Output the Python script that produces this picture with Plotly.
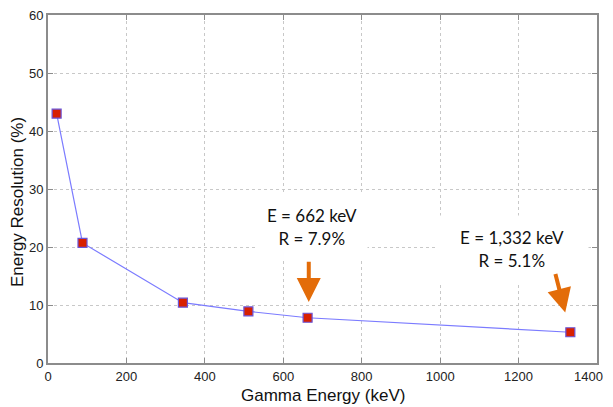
import plotly.graph_objects as go

energy_kev = [22, 88, 344, 511, 662, 1332]
resolution_pct = [43.0, 20.7, 10.4, 8.9, 7.8, 5.3]
x_ticks = [0, 200, 400, 600, 800, 1000, 1200, 1400]
x_tick_text = ["0", "200", "400", "600", "800", "1000", "1200", ""]
last_x_tick = "1400"
y_ticks = [0, 10, 20, 30, 40, 50, 60]
notes = ["E = 662 keV<br>R = 7.9%", "E = 1,332 keV<br>R = 5.1%"]
x_title = "Gamma Energy (keV)"
y_title = "Energy Resolution (%)"

orange = "#E36C09"
axis_col = "#8c8c8c"
note_font = dict(family="Lato, Open Sans", size=17, color="#111")
label_font = dict(family="Liberation Sans, Arial", size=17, color="#111")
tick_font = dict(family="Liberation Sans, Arial", size=13, color="#222")

fig = go.Figure()
fig.add_trace(go.Scatter(
    x=energy_kev, y=resolution_pct, mode="lines+markers",
    line=dict(color="#7b7bff", width=1.2),
    marker=dict(symbol="square", size=9, color="#d82000",
                line=dict(color="#6a55d8", width=1.2)),
    showlegend=False, hoverinfo="x+y",
))

ann = []
ann.append(dict(x=673, y=23.4, xref="x", yref="y", text=notes[0],
                showarrow=False, bgcolor="white", align="center", font=note_font,
                width=108, height=62))
ann.append(dict(x=1182, y=19.6, xref="x", yref="y", text=notes[1],
                showarrow=False, bgcolor="white", align="center", font=note_font,
                width=150, height=64))
ann.append(dict(x=energy_kev[4] + 3, y=resolution_pct[4] + 2.7, xref="x", yref="y",
                ax=energy_kev[4] + 3, ay=resolution_pct[4] + 9.9, axref="x", ayref="y",
                text="", showarrow=True, arrowhead=2, arrowsize=1.2, arrowwidth=4,
                arrowcolor=orange))
ann.append(dict(x=energy_kev[5] - 13, y=resolution_pct[5] + 3.4, xref="x", yref="y",
                ax=energy_kev[5] - 39, ay=resolution_pct[5] + 10.3, axref="x", ayref="y",
                text="", showarrow=True, arrowhead=2, arrowsize=1.2, arrowwidth=4,
                arrowcolor=orange))
# axis titles as annotations for exact placement
ann.append(dict(x=0.5, y=0, xref="paper", yref="paper", text=x_title, showarrow=False,
                xanchor="center", yanchor="middle", yshift=-32, font=label_font))
ann.append(dict(x=0, y=0.5, xref="paper", yref="paper", text=y_title, showarrow=False,
                textangle=-90, xanchor="center", yanchor="middle",
                xshift=-31, yshift=-13, font=label_font))
# last x tick label, kept inside the visible page edge
ann.append(dict(x=1, y=0, xref="paper", yref="paper", text=last_x_tick, showarrow=False,
                xanchor="right", yanchor="middle", xshift=8, yshift=-13.5,
                font=tick_font))

axis_common = dict(
    showline=True, linecolor=axis_col, linewidth=2, mirror="ticks",
    ticks="inside", ticklen=5, tickcolor=axis_col,
    showgrid=True, gridcolor="#c8c8c8", griddash="dot", gridwidth=1,
    zeroline=False, automargin=False, ticklabeloverflow="allow",
    tickfont=tick_font,
)

# page body has an 8px default margin, so the figure is sized to fill the rest
fig.update_layout(
    width=597, height=399,
    margin=dict(l=40, r=8, t=7, b=44, autoexpand=False),
    paper_bgcolor="white", plot_bgcolor="white",
    xaxis=dict(range=[0, 1400], tickvals=x_ticks, ticktext=x_tick_text, **axis_common),
    yaxis=dict(range=[0, 60], tickvals=y_ticks, **axis_common),
    annotations=ann,
)

fig.write_html("out.html")
